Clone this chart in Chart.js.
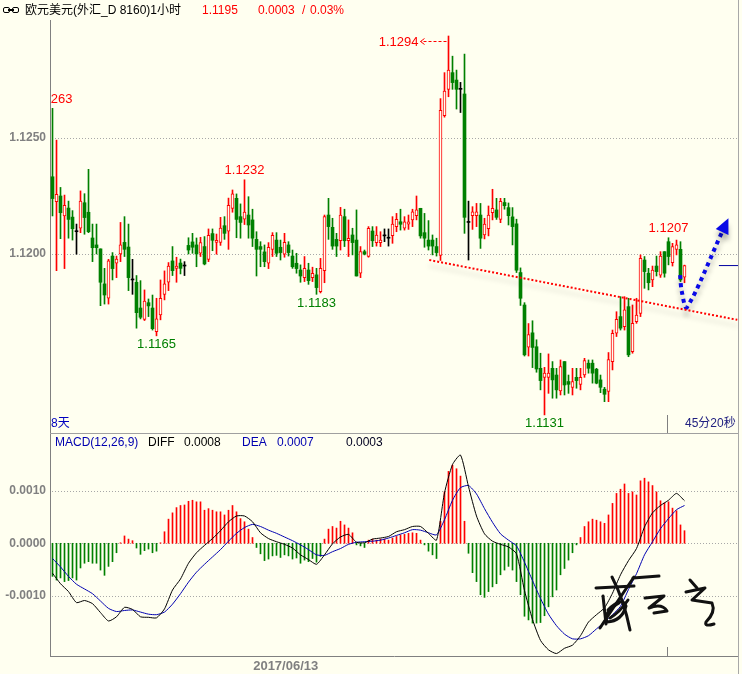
<!DOCTYPE html>
<html>
<head>
<meta charset="utf-8">
<title>欧元美元 1小时</title>
<script src="https://cdn.jsdelivr.net/npm/chart.js@4.4.1/dist/chart.umd.min.js"></script>
<style>
html,body{margin:0;padding:0;background:#fffff0}
#wrap{position:relative;width:742px;height:674px;overflow:hidden;background:#fffff0;font-family:"Liberation Sans","Noto Sans CJK SC",sans-serif;font-size:12px}
#top{position:absolute;left:0;top:0;width:742px;height:433px}
#bot{position:absolute;left:0;top:433px;width:742px;height:241px}
.t{position:absolute;white-space:nowrap;line-height:14px}
.box{position:absolute;top:7px;width:5px;height:4px;border:1.5px solid #000;border-radius:2px}
#link{position:absolute;left:8px;top:9px;width:6px;height:1.5px;background:#000}
#frame{position:absolute;left:738px;top:0;width:1px;height:674px;background:#a8a8a8}
#sign{position:absolute;left:0;top:0}
</style>
</head>
<body>
<div id="wrap">
  <div id="top"><canvas id="priceChart"></canvas></div>
  <div id="bot"><canvas id="macdChart"></canvas></div>
  <div id="frame"></div>

  <span class="box" style="left:3px"></span>
  <span class="box" style="left:12px"></span>
  <span id="link"></span>
  <div class="t" style="left:25px;top:3px;color:#000">欧元美元(外汇_D 8160)1小时</div>
  <div class="t" style="left:202px;top:3px;color:#ff0000">1.1195</div>
  <div class="t" style="left:258px;top:3px;color:#ff0000">0.0003</div>
  <div class="t" style="left:302px;top:3px;color:#ff0000">/</div>
  <div class="t" style="left:310px;top:3px;color:#ff0000">0.03%</div>

  <div class="t" style="left:51px;top:416px;color:#0000c0">8天</div>
  <div class="t" style="left:685px;top:416px;color:#202080">45分20秒</div>

  <div class="t" style="left:55px;top:435px;color:#0000b0">MACD(12,26,9)</div>
  <div class="t" style="left:148px;top:435px;color:#000">DIFF</div>
  <div class="t" style="left:184px;top:435px;color:#000">0.0008</div>
  <div class="t" style="left:242px;top:435px;color:#0000b0">DEA</div>
  <div class="t" style="left:277px;top:435px;color:#0000b0">0.0007</div>
  <div class="t" style="left:346px;top:435px;color:#000020">0.0003</div>

  <svg id="sign" width="742" height="674">
    <g fill="none" stroke="#111" stroke-width="3" stroke-linecap="round" stroke-linejoin="round">
      <path d="M596 588 L634 586"/>
      <path d="M633 578 L659 576"/>
      <path d="M600 628 Q615 605 634 577"/>
      <path d="M612 577 Q624 600 630 630"/>
      <path d="M603 596 L606 624"/>
      <path d="M608 610 Q622 596 626 606 Q622 621 607 622 Q603 612 619 603"/>
      <path d="M610 618 Q620 612 628 600"/>
      <path d="M645 598 L664 596 L649 608 Q662 603 667 611 L654 613"/>
      <path d="M690 580 L697 588"/>
      <path d="M686 592 L705 588 L692 600 L712 603 Q716 612 706 622 Q704 627 714 624"/>
    </g>
  </svg>
</div>

<script>
// EUR/USD 1h candles
const OPEN = [
1.12333,1.12226,1.12250,1.12164,1.12198,1.12159,1.12096,1.12111,1.12221,1.12180,
1.12069,1.12039,1.12022,1.11871,1.11809,1.11991,1.11960,1.12000,1.12050,1.12030,
1.11888,1.11878,1.11767,1.11718,1.11790,1.11767,1.11665,1.11737,1.11826,1.11878,
1.11970,1.11938,1.11961,1.11948,1.12037,1.12052,1.12039,1.12003,1.12032,1.11977,
1.12088,1.12050,1.12050,1.12122,1.12098,1.12197,1.12240,1.12161,1.12150,1.12168,
1.12147,1.12063,1.12032,1.12009,1.11960,1.12020,1.12060,1.12029,1.11999,1.12039,
1.11991,1.11960,1.11931,1.11898,1.11931,1.11898,1.11910,1.11838,1.11928,1.12168,
1.12115,1.12063,1.12057,1.12161,1.12057,1.12082,1.12060,1.11917,1.12010,1.11989,
1.12099,1.12049,1.12049,1.12078,1.12068,1.12079,1.12118,1.12139,1.12111,1.12129,
1.12147,1.12165,1.12197,1.12092,1.12060,1.12060,1.12032,1.11994,1.12596,1.12710,
1.12782,1.12750,1.12710,1.12690,1.12136,1.12165,1.12165,1.12168,1.12082,1.12109,
1.12178,1.12190,1.12149,1.12222,1.12200,1.12160,1.12130,1.11920,1.11780,1.11598,
1.11660,1.11600,1.11507,1.11468,1.11468,1.11507,1.11478,1.11410,1.11536,1.11450,
1.11425,1.11468,1.11438,1.11478,1.11529,1.11529,1.11503,1.11457,1.11417,1.11407,
1.11536,1.11658,1.11730,1.11687,1.11773,1.11579,1.11708,1.11744,1.11974,1.11917,
1.11888,1.11948,1.11909,1.12010,1.12053,1.11963,1.12020,1.12020,1.11900];
const HIGH = [
1.12628,1.12491,1.12287,1.12254,1.12228,1.12187,1.12129,1.12272,1.12260,1.12365,
1.12129,1.12129,1.12022,1.11938,1.11977,1.12006,1.11991,1.12136,1.12161,1.12129,
1.11977,1.11907,1.11885,1.11845,1.11806,1.11823,1.11809,1.11888,1.11927,1.11963,
1.12032,1.11986,1.11978,1.11967,1.12070,1.12089,1.12069,1.12072,1.12075,1.12108,
1.12108,1.12086,1.12158,1.12161,1.12241,1.12276,1.12259,1.12216,1.12320,1.12247,
1.12193,1.12096,1.12053,1.12039,1.12049,1.12092,1.12092,1.12060,1.12089,1.12053,
1.12017,1.12003,1.11953,1.11989,1.11960,1.11943,1.11938,1.11981,1.12168,1.12240,
1.12154,1.12089,1.12201,1.12193,1.12147,1.12111,1.12190,1.12032,1.12017,1.12118,
1.12118,1.12118,1.12096,1.12108,1.12108,1.12161,1.12175,1.12193,1.12161,1.12168,
1.12193,1.12250,1.12197,1.12175,1.12144,1.12082,1.12068,1.12670,1.12782,1.12940,
1.12853,1.12793,1.12740,1.12862,1.12228,1.12204,1.12218,1.12218,1.12154,1.12207,
1.12279,1.12240,1.12240,1.12240,1.12220,1.12200,1.12150,1.11940,1.11790,1.11700,
1.11712,1.11630,1.11572,1.11511,1.11569,1.11536,1.11507,1.11543,1.11536,1.11478,
1.11507,1.11507,1.11507,1.11550,1.11543,1.11543,1.11507,1.11478,1.11425,1.11575,
1.11672,1.11751,1.11816,1.11816,1.11809,1.11780,1.11809,1.11996,1.11989,1.11938,
1.11948,1.11991,1.12010,1.12010,1.12070,1.12046,1.12060,1.12053,1.11952];
const LOW = [
1.12164,1.11928,1.12066,1.11937,1.12068,1.12060,1.11999,1.12092,1.12085,1.12092,
1.11967,1.12000,1.11777,1.11784,1.11784,1.11888,1.11898,1.11967,1.11989,1.11842,
1.11826,1.11680,1.11720,1.11713,1.11730,1.11672,1.11647,1.11716,1.11802,1.11842,
1.11907,1.11878,1.11914,1.11907,1.12000,1.12003,1.11945,1.11989,1.11953,1.11967,
1.12014,1.11999,1.12037,1.12063,1.12020,1.12180,1.12070,1.12068,1.12127,1.12068,
1.12032,1.11905,1.11945,1.11945,1.11937,1.11989,1.11989,1.11974,1.11986,1.11991,
1.11938,1.11917,1.11878,1.11881,1.11869,1.11881,1.11826,1.11832,1.11876,1.12063,
1.12020,1.11989,1.12017,1.12032,1.11989,1.11996,1.11905,1.11898,1.11996,1.11986,
1.12032,1.12034,1.12032,1.12053,1.12034,1.12046,1.12096,1.12103,1.12103,1.12106,
1.12118,1.12147,1.12068,1.12029,1.12017,1.11996,1.11991,1.11972,1.12590,1.12678,
1.12710,1.12625,1.12610,1.12089,1.11974,1.12106,1.12118,1.12024,1.12065,1.12078,
1.12147,1.12149,1.12135,1.12193,1.12125,1.12039,1.11920,1.11778,1.11560,1.11560,
1.11510,1.11490,1.11414,1.11306,1.11399,1.11378,1.11378,1.11392,1.11392,1.11399,
1.11392,1.11421,1.11414,1.11468,1.11486,1.11443,1.11440,1.11402,1.11363,1.11363,
1.11500,1.11644,1.11672,1.11672,1.11557,1.11572,1.11701,1.11730,1.11852,1.11845,
1.11859,1.11905,1.11899,1.11900,1.11953,1.11948,1.11996,1.11881,1.11876];
const CLOSE = [
1.12239,1.12257,1.12178,1.12210,1.12149,1.12109,1.12096,1.12228,1.12157,1.12096,
1.12027,1.12027,1.11878,1.11823,1.11970,1.11937,1.11978,1.12039,1.12020,1.11898,
1.11888,1.11747,1.11727,1.11797,1.11776,1.11678,1.11720,1.11809,1.11871,1.11948,
1.11928,1.11948,1.11938,1.11948,1.12017,1.12029,1.12000,1.12049,1.11957,1.12080,
1.12059,1.12059,1.12112,1.12089,1.12210,1.12259,1.12149,1.12136,1.12181,1.12125,
1.12068,1.12020,1.12020,1.11967,1.12029,1.12080,1.12003,1.12006,1.12050,1.12006,
1.11945,1.11937,1.11905,1.11938,1.11885,1.11917,1.11855,1.11938,1.12161,1.12118,
1.12034,1.12034,1.12168,1.12057,1.12068,1.12049,1.11905,1.12010,1.11999,1.12111,
1.12057,1.12082,1.12060,1.12078,1.12068,1.12129,1.12149,1.12128,1.12139,1.12139,
1.12182,1.12190,1.12078,1.12068,1.12034,1.12034,1.12006,1.12620,1.12703,1.12793,
1.12739,1.12710,1.12710,1.12158,1.12136,1.12182,1.12182,1.12068,1.12129,1.12168,
1.12197,1.12158,1.12227,1.12208,1.12165,1.12118,1.11930,1.11809,1.11565,1.11652,
1.11597,1.11504,1.11454,1.11486,1.11486,1.11457,1.11414,1.11514,1.11435,1.11438,
1.11450,1.11454,1.11468,1.11540,1.11507,1.11486,1.11443,1.11425,1.11395,1.11545,
1.11658,1.11718,1.11680,1.11759,1.11565,1.11701,1.11737,1.11981,1.11924,1.11876,
1.11931,1.11924,1.11991,1.11917,1.11989,1.12032,1.12039,1.11888,1.11950];

// MACD histogram, one bar per candle
const MACD_HIST = [
-0.00063,-0.00070,-0.00066,-0.00073,-0.00071,-0.00066,-0.00070,-0.00047,-0.00038,-0.00035,
-0.00038,-0.00038,-0.00051,-0.00061,-0.00044,-0.00035,-0.00018,0.00001,0.00014,0.00008,
0.00005,-0.00009,-0.00021,-0.00014,-0.00011,-0.00018,-0.00015,0.00001,0.00022,0.00046,
0.00058,0.00068,0.00072,0.00073,0.00080,0.00082,0.00079,0.00079,0.00063,0.00066,
0.00063,0.00060,0.00060,0.00054,0.00063,0.00072,0.00060,0.00047,0.00041,0.00027,
0.00011,-0.00008,-0.00020,-0.00033,-0.00030,-0.00024,-0.00023,-0.00027,-0.00022,-0.00024,
-0.00030,-0.00028,-0.00038,-0.00032,-0.00035,-0.00029,-0.00036,-0.00025,0.00008,0.00027,
0.00032,0.00029,0.00042,0.00035,0.00029,0.00020,-0.00003,-0.00005,-0.00008,0.00006,
0.00008,0.00006,0.00008,0.00008,0.00006,0.00010,0.00013,0.00016,0.00017,0.00019,
0.00020,0.00019,0.00006,-0.00003,-0.00015,-0.00022,-0.00029,0.00042,0.00098,0.00137,
0.00149,0.00142,0.00128,0.00042,-0.00019,-0.00056,-0.00073,-0.00098,-0.00103,-0.00092,
-0.00083,-0.00077,-0.00060,-0.00051,-0.00044,-0.00051,-0.00073,-0.00098,-0.00139,-0.00146,
-0.00152,-0.00152,-0.00151,-0.00138,-0.00121,-0.00102,-0.00089,-0.00060,-0.00048,-0.00032,
-0.00018,-0.00003,0.00011,0.00032,0.00041,0.00046,0.00044,0.00041,0.00038,0.00054,
0.00076,0.00095,0.00103,0.00113,0.00095,0.00098,0.00092,0.00119,0.00124,0.00117,
0.00110,0.00098,0.00081,0.00077,0.00079,0.00067,0.00062,0.00035,0.00024];

// DIFF / DEA sampled every second candle
const LINE_IDX = [
0,2,4,6,8,10,12,14,16,18, 20,22,24,26,28,30,32,34,36,38,
40,42,44,46,48,50,52,54,56,58, 60,62,64,66,68,70,72,74,76,78,
80,82,84,86,88,90,92,94,96,98, 100,102,104,106,108,110,112,114,116,118,
120,122,124,126,128,130,132,134,136,138, 140,142,144,146,148,150,152,154,156,158];
const DIFF = [
-0.00057,-0.00077,-0.00092,-0.00113,-0.00109,-0.00115,-0.00132,-0.00148,-0.00140,-0.00122,
-0.00126,-0.00140,-0.00141,-0.00142,-0.00125,-0.00089,-0.00068,-0.00038,-0.00018,-0.00004,
0.00009,0.00024,0.00041,0.00052,0.00052,0.00041,0.00020,0.00009,0.00003,-0.00002,
-0.00009,-0.00022,-0.00031,-0.00040,-0.00022,-0.00001,0.00012,0.00017,0.00002,0.00001,
0.00008,0.00010,0.00013,0.00022,0.00026,0.00032,0.00032,0.00019,0.00006,0.00096,
0.00150,0.00168,0.00108,0.00052,0.00018,0.00004,-0.00002,-0.00007,-0.00020,-0.00090,
-0.00145,-0.00185,-0.00203,-0.00210,-0.00200,-0.00194,-0.00176,-0.00150,-0.00136,-0.00123,
-0.00095,-0.00060,-0.00033,-0.00010,0.00031,0.00058,0.00072,0.00082,0.00095,0.00081];
const DEA = [
-0.00029,-0.00045,-0.00063,-0.00078,-0.00087,-0.00096,-0.00110,-0.00124,-0.00130,-0.00128,
-0.00127,-0.00131,-0.00135,-0.00136,-0.00131,-0.00116,-0.00096,-0.00074,-0.00055,-0.00040,
-0.00026,-0.00012,0.00004,0.00019,0.00030,0.00036,0.00032,0.00025,0.00019,0.00012,
0.00005,-0.00003,-0.00012,-0.00022,-0.00023,-0.00016,-0.00010,-0.00002,0.00002,0.00003,
0.00004,0.00006,0.00010,0.00015,0.00020,0.00026,0.00025,0.00020,0.00016,0.00045,
0.00082,0.00106,0.00110,0.00094,0.00066,0.00040,0.00018,0.00006,-0.00005,-0.00036,
-0.00071,-0.00105,-0.00135,-0.00157,-0.00173,-0.00182,-0.00182,-0.00176,-0.00163,-0.00150,
-0.00136,-0.00120,-0.00088,-0.00058,-0.00022,0.00003,0.00028,0.00047,0.00064,0.00072];

const PRICE_TICKS = [1.1250, 1.1200];
const MACD_TICKS = [0.0010, 0.0000, -0.0010];
const HIGH_MARKS = [0, 48, 154];
const LOW_MARKS = [26, 66, 123];
const PEAK_MARK = 99;
// hand-drawn trend line and forecast arrow (candle index / price)
const TREND_IDX = [94.2, 171.2];
const TREND_PRICE = [1.11974, 1.11716];
const ARROW_IDX = [156.9, 157.3, 158.6, 167.4];
const ARROW_PRICE = [1.11909, 1.11840, 1.11770, 1.12095];
const LAST_PRICE = 1.1195;
const LAST_FROM = 166.6;
const DAY_TICK_IDX = 153.6;
const DATE_LABEL_IDX = 58.3;
const DATE_LABEL = '2017/06/13';

const X_MIN = -0.625, X_MAX = 171.375;
const P_MIN = 1.11228, P_MAX = 1.13009;
const M_MIN = -0.002147, M_MAX = 0.002101;

const RED = '#ff0000', GREEN = '#008000', BLACK = '#000000', BG = '#fffff0';
const AXIS = '#808080', GRID = '#a8a8a8';

Chart.defaults.font.family = '"Liberation Sans", sans-serif';

const IDX = OPEN.map((_, i) => i);
function candleColor(i){ return CLOSE[i] > OPEN[i] ? RED : (CLOSE[i] < OPEN[i] ? GREEN : BLACK); }

// keep tick labels from shrinking the plot area
function noPad(s){ s.paddingTop = 0; s.paddingBottom = 0; s.paddingLeft = 0; s.paddingRight = 0; }

const gridLines = {
  id: 'gridLines',
  beforeDatasetsDraw(chart, args, opts){
    const {ctx, chartArea: a, scales: {y}} = chart;
    ctx.save(); ctx.strokeStyle = GRID; ctx.lineWidth = 1; ctx.setLineDash([1,2]);
    (opts.values || []).forEach(v => {
      const py = Math.round(y.getPixelForValue(v)) + 0.5;
      ctx.beginPath(); ctx.moveTo(a.left + 2, py); ctx.lineTo(a.right, py); ctx.stroke();
    });
    ctx.restore();
  }
};

const shadows = {
  id: 'shadows',
  beforeDatasetDraw(chart, args){
    const ds = chart.data.datasets[args.index];
    if (ds.shadowColor){ const c = chart.ctx; c.save(); c.shadowColor = ds.shadowColor; c.shadowBlur = 5; c.shadowOffsetY = 6; }
  },
  afterDatasetDraw(chart, args){
    if (chart.data.datasets[args.index].shadowColor) chart.ctx.restore();
  }
};

const priceNotes = {
  id: 'priceNotes',
  afterDatasetsDraw(chart){
    const {ctx, chartArea: a, scales: {x, y}} = chart;
    ctx.save();
    // arrow head of the forecast arrow
    const pts = chart.getDatasetMeta(1).data;
    const p1 = pts[pts.length - 2], p2 = pts[pts.length - 1];
    const ang = Math.atan2(p2.y - p1.y, p2.x - p1.x);
    ctx.save();
    ctx.shadowColor = 'rgba(0,0,0,0.3)'; ctx.shadowBlur = 5; ctx.shadowOffsetY = 6;
    ctx.fillStyle = '#0a0ae6';
    ctx.beginPath();
    ctx.moveTo(p2.x + Math.cos(ang) * 15, p2.y + Math.sin(ang) * 15);
    ctx.lineTo(p2.x - Math.sin(ang) * 7, p2.y + Math.cos(ang) * 7);
    ctx.lineTo(p2.x + Math.sin(ang) * 7, p2.y - Math.cos(ang) * 7);
    ctx.closePath(); ctx.fill();
    ctx.restore();

    ctx.beginPath(); ctx.rect(a.left + 1, 0, a.right - a.left, chart.height); ctx.clip();
    ctx.font = '13px "Liberation Sans"'; ctx.textAlign = 'center'; ctx.textBaseline = 'middle';
    ctx.fillStyle = RED;
    HIGH_MARKS.forEach(i => ctx.fillText(HIGH[i].toFixed(4), x.getPixelForValue(i), y.getPixelForValue(HIGH[i]) - 9));
    ctx.fillStyle = GREEN;
    LOW_MARKS.forEach(i => ctx.fillText(LOW[i].toFixed(4), x.getPixelForValue(i), y.getPixelForValue(LOW[i]) + 9));
    // peak label with dashed pointer
    const px = x.getPixelForValue(PEAK_MARK) - 2, py = Math.round(y.getPixelForValue(HIGH[PEAK_MARK])) + 5.5;
    ctx.strokeStyle = RED; ctx.lineWidth = 1; ctx.setLineDash([3,2]);
    ctx.beginPath(); ctx.moveTo(px, py); ctx.lineTo(px - 26, py); ctx.stroke();
    ctx.setLineDash([]);
    ctx.beginPath(); ctx.moveTo(px - 22, py - 3); ctx.lineTo(px - 26, py); ctx.lineTo(px - 22, py + 3); ctx.stroke();
    ctx.fillStyle = RED; ctx.textAlign = 'right';
    ctx.fillText(HIGH[PEAK_MARK].toFixed(4), px - 28, py + 1);
    // day separator tick
    const tx = Math.round(x.getPixelForValue(DAY_TICK_IDX)) + 0.5;
    ctx.strokeStyle = AXIS;
    ctx.beginPath(); ctx.moveTo(tx, a.bottom - 18); ctx.lineTo(tx, a.bottom); ctx.stroke();
    ctx.restore();
  }
};

const macdFrame = {
  id: 'macdFrame',
  afterDraw(chart){
    const {ctx, chartArea: a, scales: {x}} = chart;
    ctx.save(); ctx.lineWidth = 1;
    ctx.strokeStyle = '#a0a0a0';
    ctx.beginPath(); ctx.moveTo(a.left, 0.5); ctx.lineTo(a.right, 0.5); ctx.stroke();
    const tx = Math.round(x.getPixelForValue(DAY_TICK_IDX)) + 0.5;
    ctx.strokeStyle = AXIS;
    ctx.beginPath(); ctx.moveTo(tx, a.bottom - 9); ctx.lineTo(tx, a.bottom); ctx.stroke();
    ctx.restore();
  }
};

const yTickFont = {size: 12, weight: 'bold', family: '"Liberation Sans", sans-serif'};

new Chart(document.getElementById('priceChart'), {
  type: 'bar',
  data: {datasets: [
    {type: 'line', label: 'trend', data: TREND_IDX.map((v, k) => ({x: v, y: TREND_PRICE[k]})),
     borderColor: RED, borderWidth: 2, borderDash: [2,2], pointRadius: 0, shadowColor: 'rgba(0,0,0,0.22)', order: 0},
    {type: 'line', label: 'arrow', data: ARROW_IDX.map((v, k) => ({x: v, y: ARROW_PRICE[k]})),
     borderColor: '#0a0ae6', borderWidth: 4, borderDash: [4,4], pointRadius: 0, tension: 0.3, shadowColor: 'rgba(0,0,0,0.3)', order: 0},
    {type: 'line', label: 'last', data: [{x: LAST_FROM, y: LAST_PRICE}, {x: X_MAX, y: LAST_PRICE}],
     borderColor: '#0000a0', borderWidth: 1, pointRadius: 0, order: 0},
    {label: 'body', data: IDX.map(i => ({x: i, y: [Math.min(OPEN[i], CLOSE[i]), Math.max(OPEN[i], CLOSE[i])]})),
     backgroundColor: IDX.map(i => candleColor(i) === RED ? BG : candleColor(i)),
     borderColor: IDX.map(candleColor),
     borderWidth: IDX.map(i => candleColor(i) === RED ? 1 : 0),
     borderSkipped: false, barThickness: 3, minBarLength: 1, grouped: false, order: 1},
    {label: 'wick', data: IDX.map(i => ({x: i, y: [LOW[i], HIGH[i]]})),
     backgroundColor: IDX.map(candleColor), borderWidth: 0, barThickness: 1, grouped: false, order: 2}
  ]},
  options: {
    responsive: true, maintainAspectRatio: false, animation: false, devicePixelRatio: 1, events: [],
    layout: {padding: {top: 20, right: 4, bottom: 0, left: 0}},
    plugins: {legend: {display: false}, tooltip: {enabled: false}, gridLines: {values: PRICE_TICKS}},
    scales: {
      x: {type: 'linear', min: X_MIN, max: X_MAX, offset: false, display: false, grid: {display: false}},
      y: {type: 'linear', min: P_MIN, max: P_MAX, grid: {display: false, drawTicks: false},
          border: {display: true, color: AXIS, width: 1},
          afterBuildTicks: s => { s.ticks = PRICE_TICKS.map(v => ({value: v})); },
          afterFit: s => { s.width = 50; noPad(s); },
          ticks: {padding: 4, color: AXIS, font: yTickFont, callback: v => Number(v).toFixed(4)}}
    }
  },
  plugins: [gridLines, shadows, priceNotes]
});

new Chart(document.getElementById('macdChart'), {
  type: 'bar',
  data: {datasets: [
    {type: 'line', label: 'DIFF', data: LINE_IDX.map((v, k) => ({x: v, y: DIFF[k]})),
     borderColor: '#000000', borderWidth: 1, pointRadius: 0, tension: 0.2, order: 0},
    {type: 'line', label: 'DEA', data: LINE_IDX.map((v, k) => ({x: v, y: DEA[k]})),
     borderColor: '#0000b0', borderWidth: 1, pointRadius: 0, tension: 0.2, order: 1},
    {label: 'MACD', data: IDX.map(i => ({x: i, y: MACD_HIST[i]})),
     backgroundColor: MACD_HIST.map(v => v >= 0 ? RED : GREEN), borderWidth: 0,
     barThickness: 1, grouped: false, order: 2}
  ]},
  options: {
    responsive: true, maintainAspectRatio: false, animation: false, devicePixelRatio: 1, events: [],
    layout: {padding: {top: 0, right: 4, bottom: 0, left: 0}},
    plugins: {legend: {display: false}, tooltip: {enabled: false}, gridLines: {values: MACD_TICKS}},
    scales: {
      x: {type: 'linear', min: X_MIN, max: X_MAX, offset: false, position: 'bottom',
          grid: {display: false, drawTicks: false}, border: {display: true, color: AXIS, width: 1},
          afterBuildTicks: s => { s.ticks = [{value: DATE_LABEL_IDX}]; },
          afterFit: s => { s.height = 18; noPad(s); },
          ticks: {autoSkip: false, maxRotation: 0, padding: 3, color: AXIS, font: {size: 13, weight: 'bold'}, callback: () => DATE_LABEL}},
      y: {type: 'linear', min: M_MIN, max: M_MAX, grid: {display: false, drawTicks: false},
          border: {display: true, color: AXIS, width: 1},
          afterBuildTicks: s => { s.ticks = MACD_TICKS.map(v => ({value: v})); },
          afterFit: s => { s.width = 50; noPad(s); },
          ticks: {padding: 4, color: AXIS, font: yTickFont, callback: v => Number(v).toFixed(4)}}
    }
  },
  plugins: [gridLines, macdFrame]
});
</script>
</body>
</html>
